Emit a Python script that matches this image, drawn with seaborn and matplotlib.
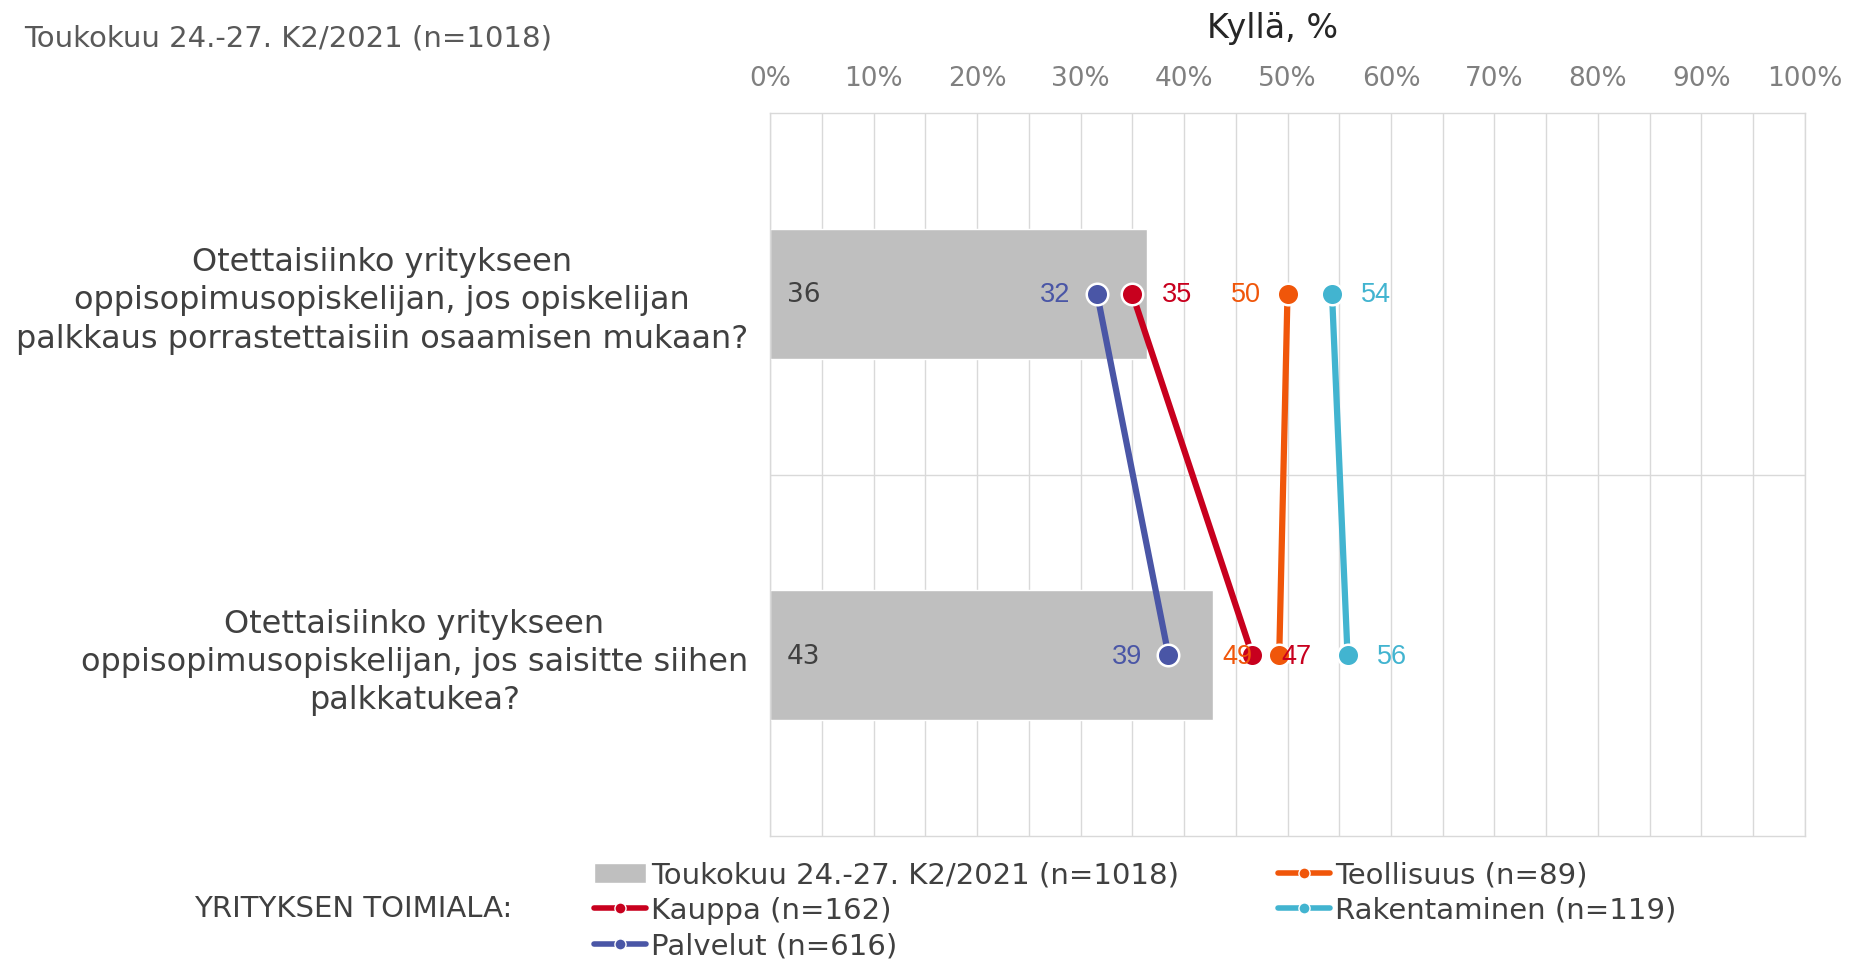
import pandas as pd
import seaborn as sns
import matplotlib.pyplot as plt
from matplotlib.patches import Patch
from matplotlib.lines import Line2D
from matplotlib.ticker import MultipleLocator, FixedLocator, PercentFormatter

questions = [
    "Otettaisiinko yritykseen\noppisopimusopiskelijan, jos opiskelijan\npalkkaus porrastettaisiin osaamisen mukaan?",
    "Otettaisiinko yritykseen\noppisopimusopiskelijan, jos saisitte siihen\npalkkatukea?",
]
total_label = "Toukokuu 24.-27. K2/2021 (n=1018)"
total_values = [36.4, 42.8]
total_text = [36, 43]

series_names = ["Kauppa (n=162)", "Palvelut (n=616)", "Teollisuus (n=89)", "Rakentaminen (n=119)"]
kauppa = [35.0, 46.6]
palvelut = [31.6, 38.5]
teollisuus = [50.0, 49.2]
rakentaminen = [54.3, 55.8]
kauppa_text = [35, 47]
palvelut_text = [32, 39]
teollisuus_text = [50, 49]
rakentaminen_text = [54, 56]
series_colors = ["#C8001E", "#4A56A6", "#F0560A", "#42B4D0"]
label_side = ["right", "left", "left", "right"]

bar_df = pd.DataFrame({"question": questions, "value": total_values})
line_df = pd.DataFrame({
    "question": questions * 4,
    "series": [s for s in series_names for _ in questions],
    "value": kauppa + palvelut + teollisuus + rakentaminen,
    "text": kauppa_text + palvelut_text + teollisuus_text + rakentaminen_text,
})

sns.set_theme(style="white")
plt.rcParams["font.family"] = ["DejaVu Sans"]

fig = plt.figure(figsize=(18.52, 9.61), dpi=100)
ax = fig.add_axes([0.4158, 0.130, 0.5588, 0.7524])

sns.barplot(data=bar_df, x="value", y="question", color="#BFBFBF", width=0.36,
            saturation=1, ax=ax, zorder=2)
sns.pointplot(data=line_df, x="value", y="question", hue="series", hue_order=series_names,
              palette=series_colors, markers="o", dodge=False, errorbar=None, legend=False,
              ax=ax, markersize=15.5, linewidth=4.5, markeredgecolor="white",
              markeredgewidth=1.8, zorder=4)

# value labels
for i, t in enumerate(total_text):
    ax.annotate(str(t), (0, i), xytext=(12, -1), textcoords="offset points",
                ha="left", va="center", fontsize=19, color="#404040")
for name, col, side in zip(series_names, series_colors, label_side):
    sub = line_df[line_df["series"] == name]
    for i, (v, t) in enumerate(zip(sub["value"], sub["text"])):
        dx = 21 if side == "right" else -19
        ax.annotate(str(t), (v, i), xytext=(dx, -1), textcoords="offset points",
                    ha="left" if side == "right" else "right", va="center",
                    fontsize=19.5, color=col, family="Liberation Sans", zorder=5)

ax.set_xlim(0, 100)
ax.set_ylim(1.5, -0.5)
ax.xaxis.set_major_locator(MultipleLocator(10))
ax.xaxis.set_minor_locator(MultipleLocator(5))
ax.xaxis.set_major_formatter(PercentFormatter(100, decimals=0))
ax.xaxis.tick_top()
ax.xaxis.set_label_position("top")
ax.set_xlabel("Kyllä, %", fontsize=24, color="#262626", labelpad=20)
ax.xaxis.label.set_x(0.486)
ax.set_ylabel("")
ax.tick_params(axis="x", which="both", length=0, labelsize=19, labelcolor="#808080", pad=15)
ax.tick_params(axis="y", length=0, labelsize=23, labelcolor="#404040", pad=16)
for lbl in ax.get_yticklabels():
    lbl.set_multialignment("center")
    lbl.set_linespacing(1.3)
ax.yaxis.set_minor_locator(FixedLocator([0.5]))
ax.grid(True, axis="x", which="both", color="#D9D9D9", linewidth=1, zorder=0)
ax.grid(True, axis="y", which="minor", color="#D9D9D9", linewidth=1, zorder=0)
ax.set_axisbelow(True)
for sp in ax.spines.values():
    sp.set_color("#D9D9D9")
    sp.set_linewidth(1)

fig.text(0.013, 0.96, total_label, fontsize=21, color="#595959", ha="left", va="center")
fig.text(0.105, 0.054, "YRITYKSEN TOIMIALA:", fontsize=21, color="#404040", ha="left", va="center")

handles = [Patch(facecolor="#BFBFBF", label=total_label)]
for name, col in zip(series_names, series_colors):
    handles.append(Line2D([], [], color=col, linewidth=4, marker="o", markersize=8,
                          markeredgecolor="white", markeredgewidth=1, label=name))
fig.legend(handles=handles, ncol=2, loc="upper left", bbox_to_anchor=(0.3207, 0.104),
           frameon=False, fontsize=21, handlelength=1.8, handletextpad=0.15,
           columnspacing=3.4, labelspacing=0.26, borderaxespad=0, borderpad=0,
           labelcolor="#404040")

fig.savefig("out.png", dpi=100)
